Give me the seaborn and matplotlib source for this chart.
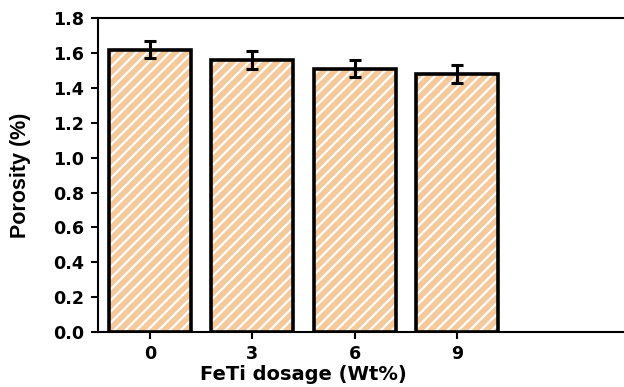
import matplotlib
matplotlib.use("Agg")
import matplotlib.pyplot as plt
import seaborn as sns
import pandas as pd

categories = ["0", "3", "6", "9"]
porosity = [1.62, 1.56, 1.51, 1.48]
errors = [0.05, 0.05, 0.05, 0.05]
yticks = [0.0, 0.2, 0.4, 0.6, 0.8, 1.0, 1.2, 1.4, 1.6, 1.8]

sns.set_style("ticks")
plt.rcParams['font.family'] = ['DejaVu Sans']
plt.rcParams['font.weight'] = 'bold'
plt.rcParams['hatch.linewidth'] = 1.6
for k in ['text.color', 'axes.labelcolor', 'xtick.color', 'ytick.color', 'axes.edgecolor']:
    plt.rcParams[k] = 'black'

df = pd.DataFrame({"dosage": categories, "porosity": porosity})

fig = plt.figure(figsize=(6.24, 3.87), dpi=100)
ax = fig.add_axes([0.157, 0.142, 0.843, 0.811])

sns.barplot(data=df, x="dosage", y="porosity", color="#F6C99B", saturation=1,
            width=0.8, errorbar=None, edgecolor="white", linewidth=0,
            hatch="///", ax=ax)
sns.barplot(data=df, x="dosage", y="porosity", color="black", fill=False,
            width=0.8, errorbar=None, linewidth=2.6, ax=ax)

ax.errorbar(range(len(categories)), porosity, yerr=errors, fmt="none",
            ecolor="black", elinewidth=2.2, capsize=4, capthick=2.2, zorder=5)

ax.set_xlim(-0.508, 4.63)
ax.set_ylim(0, 1.8)
ax.set_yticks(yticks)
ax.set_yticklabels([f"{t:.1f}" for t in yticks])
ax.tick_params(axis="both", labelsize=12.6, width=1.5, length=5, direction="out",
               color="black", labelcolor="black")
ax.tick_params(axis="y", pad=5)
ax.tick_params(axis="x", pad=4)
for lab in ax.get_xticklabels() + ax.get_yticklabels():
    lab.set_fontweight("bold")

for s in ["left", "bottom", "top"]:
    ax.spines[s].set_linewidth(1.5)
    ax.spines[s].set_color("black")
ax.spines["right"].set_visible(False)

ax.set_xlabel("FeTi dosage (Wt%)", fontsize=14, fontweight="bold", labelpad=2,
              color="black")
ax.xaxis.label.set_x(0.39)
ax.set_ylabel("Porosity (%)", fontsize=15.5, fontweight="bold", labelpad=16,
              color="black", family=["Liberation Sans", "DejaVu Sans"])

fig.savefig("out.png", dpi=100)
